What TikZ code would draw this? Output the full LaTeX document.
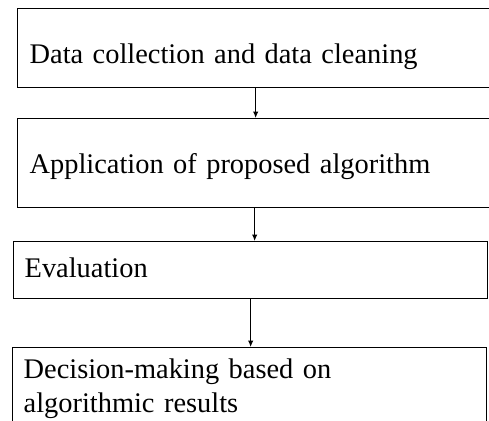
\documentclass[tikz,border=0pt]{standalone}
\usepackage{fontspec}
\setmainfont{Liberation Serif}
\usetikzlibrary{arrows.meta}

\tikzset{
    stepbox/.style={draw, line width=1.3pt, anchor=north west, inner xsep=12pt,
        inner ysep=0pt, align=left, font=\fontsize{28.4}{34}\selectfont},
    flow/.style={-{Latex[length=6.5pt,width=5.5pt]}, line width=1pt}
}

\begin{document}
\begin{tikzpicture}[x=1pt,y=-1pt]
    \useasboundingbox (0,0) rectangle (489,420);
    \clip (0,0) rectangle (489,420);

    % Schritte
    \node[stepbox, text width=452pt, text height=55pt, text depth=24pt] (collect) at (17,8)
        {Data collection and data cleaning};
    \node[stepbox, text width=450pt, text height=55pt, text depth=34pt] (apply) at (17,118)
        {Application of proposed algorithm};
    \node[stepbox, inner xsep=11pt, text width=452pt, text height=36pt, text depth=21pt] (evaluate) at (13,241)
        {Evaluation};
    \node[stepbox, inner xsep=11pt, text width=452pt, text height=31pt, text depth=60pt] (decide) at (12,347)
        {Decision-making based on\\algorithmic results};

    % Pfeile
    \draw[flow] (collect.south) -- (collect.south |- apply.north);
    \draw[flow] (apply.south) -- (apply.south |- evaluate.north);
    \draw[flow] (evaluate.south) -- (evaluate.south |- decide.north);
\end{tikzpicture}
\end{document}
